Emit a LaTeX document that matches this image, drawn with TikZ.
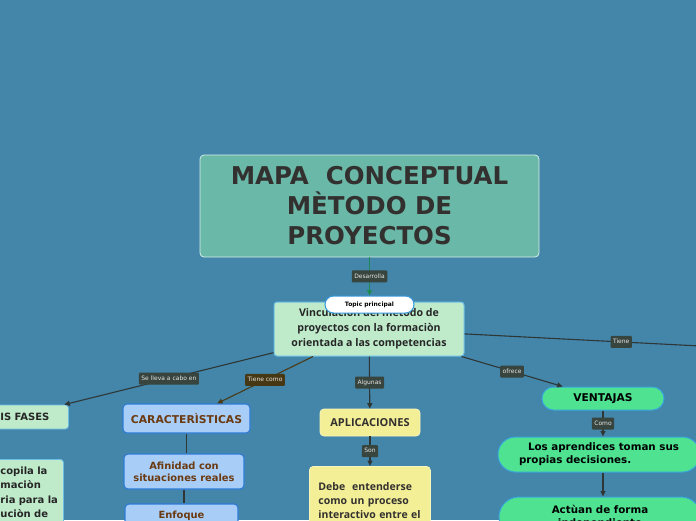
\documentclass[tikz,border=0pt]{standalone}
\usepackage{fontspec}
\setmainfont{DejaVu Sans}
\newfontfamily\osans{Open Sans}
\usetikzlibrary{arrows.meta,calc}
\definecolor{bgc}{HTML}{4386AA}
\definecolor{titlefill}{HTML}{6AB8A7}
\definecolor{titleline}{HTML}{D6EFEA}
\definecolor{titletext}{HTML}{333030}
\definecolor{lgreen}{HTML}{BFEBCB}
\definecolor{lgreenline}{HTML}{6BBDE6}
\definecolor{bluefill}{HTML}{A8CDF7}
\definecolor{blueline}{HTML}{2E7BD8}
\definecolor{browntext}{HTML}{6B3A10}
\definecolor{yfill}{HTML}{F3EF96}
\definecolor{yline}{HTML}{F8F5BC}
\definecolor{gfill}{HTML}{4FE391}
\definecolor{gline}{HTML}{38A4DC}
\definecolor{lblfill}{HTML}{38443E}
\definecolor{lblbrown}{HTML}{463814}
\definecolor{lbltext}{HTML}{E6E6E6}
\definecolor{edgec}{HTML}{2F3636}
\definecolor{edgebrown}{HTML}{4A3A18}
\definecolor{edgegreen}{HTML}{1F8A56}
\definecolor{pillline}{HTML}{3498DB}
\definecolor{darktext}{HTML}{262626}
\tikzset{
  titlebox/.style={draw=titleline, line width=0.8pt, fill=titlefill, rounded corners=4, align=center,
    text=titletext, font=\fontsize{24.5}{30}\selectfont\bfseries, inner sep=0},
  centerbox/.style={draw=lgreenline, line width=1pt, fill=lgreen, rounded corners=3, align=center,
    text=darktext, font=\osans\fontsize{10.6}{15}\selectfont\bfseries, inner sep=0},
  greenbox/.style={draw=lgreenline, line width=0.8pt, fill=lgreen, rounded corners=3,
    text=darktext, font=\fontsize{10}{14.3}\selectfont\bfseries},
  bluebox/.style={draw=blueline, line width=1.1pt, fill=bluefill, rounded corners=4, align=center,
    text=browntext, inner sep=0},
  yellowbox/.style={draw=yline, line width=0.8pt, fill=yfill, rounded corners=4,
    text=titletext, font=\osans\fontsize{10.5}{14}\selectfont\bfseries},
  pill/.style={draw=gline, line width=1pt, fill=gfill, rounded corners=#1, inner sep=0,
    text=black, font=\fontsize{10.3}{13}\selectfont\bfseries},
  topicpill/.style={draw=pillline, line width=1pt, fill=white, rounded corners=8.5, inner sep=0,
    text=black, font=\fontsize{6}{7}\selectfont\bfseries},
  lbl/.style={fill=lblfill, text=lbltext, font=\fontsize{6}{7}\selectfont, inner xsep=2.5,
    inner ysep=0, text height=4.6, text depth=1.4, minimum height=12, rounded corners=1},
  edge/.style={draw=edgec, line width=1.1pt, -{Triangle[length=5.5pt,width=5pt]}},
  plainedge/.style={draw=edgec, line width=1.1pt},
}
\begin{document}
\begin{tikzpicture}[x=1pt,y=-1pt]
\useasboundingbox (0,0) rectangle (696,520);
\fill[bgc] (0,0) rectangle (696,520);
\clip (0,0) rectangle (696,520);

% title
\node[titlebox, minimum width=339, minimum height=102] (title) at (369.5,206)
  {MAPA\ \ CONCEPTUAL\\MÈTODO DE\\PROYECTOS};

% central topic
\node[centerbox, minimum width=190, minimum height=54] (center) at (369,329)
  {Vinculaciòn del mètodo de\\proyectos con la formaciòn\\orientada a las competencias};
\node[topicpill, minimum width=89, minimum height=17] (topic) at (369.5,304.5) {Topic principal};

% left column
\node[greenbox, anchor=west, inner xsep=0, inner ysep=0, minimum height=24, text width=108, align=left]
  (fases) at (-40,417) {\hspace*{40pt}IS FASES};
\node[greenbox, anchor=north west, inner xsep=0, inner ysep=7.4, text width=103, align=left]
  (recopila) at (-40,459)
  {\hspace*{40pt}copila la\\\hspace*{40pt}maciòn\\\hspace*{40pt}ria para la\\\hspace*{40pt}uciòn de\\\hspace*{40pt}\strut};

% caracteristicas column
\node[bluebox, minimum width=127, minimum height=29, font=\fontsize{10.8}{13}\selectfont\bfseries]
  (caract) at (186.5,418.5) {CARACTERÌSTICAS};
\node[bluebox, minimum width=120, minimum height=35, font=\fontsize{9.9}{12}\selectfont\bfseries]
  (afin) at (184,471.5) {Afinidad con\\situaciones reales};
\node[bluebox, minimum width=113, minimum height=24, font=\fontsize{9.9}{12}\selectfont\bfseries]
  (enfoque) at (181.5,516) {Enfoque};

% aplicaciones column
\node[yellowbox, align=center, inner sep=0, minimum width=100, minimum height=27,
  font=\osans\fontsize{11}{13}\selectfont\bfseries] (aplic) at (370,422.5) {APLICACIONES};
\node[yellowbox, anchor=north west, text width=103, inner xsep=9, inner ysep=16, align=left]
  (debe) at (309,466) {Debe\ \ entenderse\\como un proceso\\interactivo entre el};

% ventajas column
\node[pill=11.5, minimum width=122, minimum height=23, font=\fontsize{10.7}{13}\selectfont\bfseries]
  (ventajas) at (603,398.5) {VENTAJAS};
\node[pill=17.5, minimum width=202, minimum height=35, align=left]
  (aprend) at (599,454.5) {\hspace*{9pt}Los aprendices toman sus\\propias decisiones.};
\node[pill=20, minimum width=202, minimum height=40, align=center]
  (actuan) at (600,517) {Actùan de forma\\independiente};

\coordinate (tieneEnd) at (778,350);

% connectors
\draw[edge, draw=edgegreen, -{Triangle[length=5.5pt,width=5pt]}] (title) -- node[lbl] {Desarrolla} (topic);
\draw[edge] (center) -- node[lbl] {Se lleva a cabo en} (fases);
\draw[edge, draw=edgebrown] (center) -- node[lbl, fill=lblbrown] {Tiene como} (caract);
\draw[edge] (center) -- node[lbl] {Algunas} (aplic);
\draw[edge] (center) -- node[lbl] {ofrece} (ventajas);
\draw[plainedge] (center) -- node[lbl] {Tiene} (tieneEnd);

\draw[plainedge] (caract.south) -- (caract.south |- afin.north);
\draw[plainedge] (afin.south) -- (afin.south |- enfoque.north);

\draw[edge] (aplic.south) -- node[lbl] {Son} (aplic.south |- debe.north);

\draw[edge] (ventajas.south) -- node[lbl] {Como} (ventajas.south |- aprend.north);
\draw[edge] (ventajas.south |- aprend.south) -- (ventajas.south |- actuan.north);
\end{tikzpicture}
\end{document}
